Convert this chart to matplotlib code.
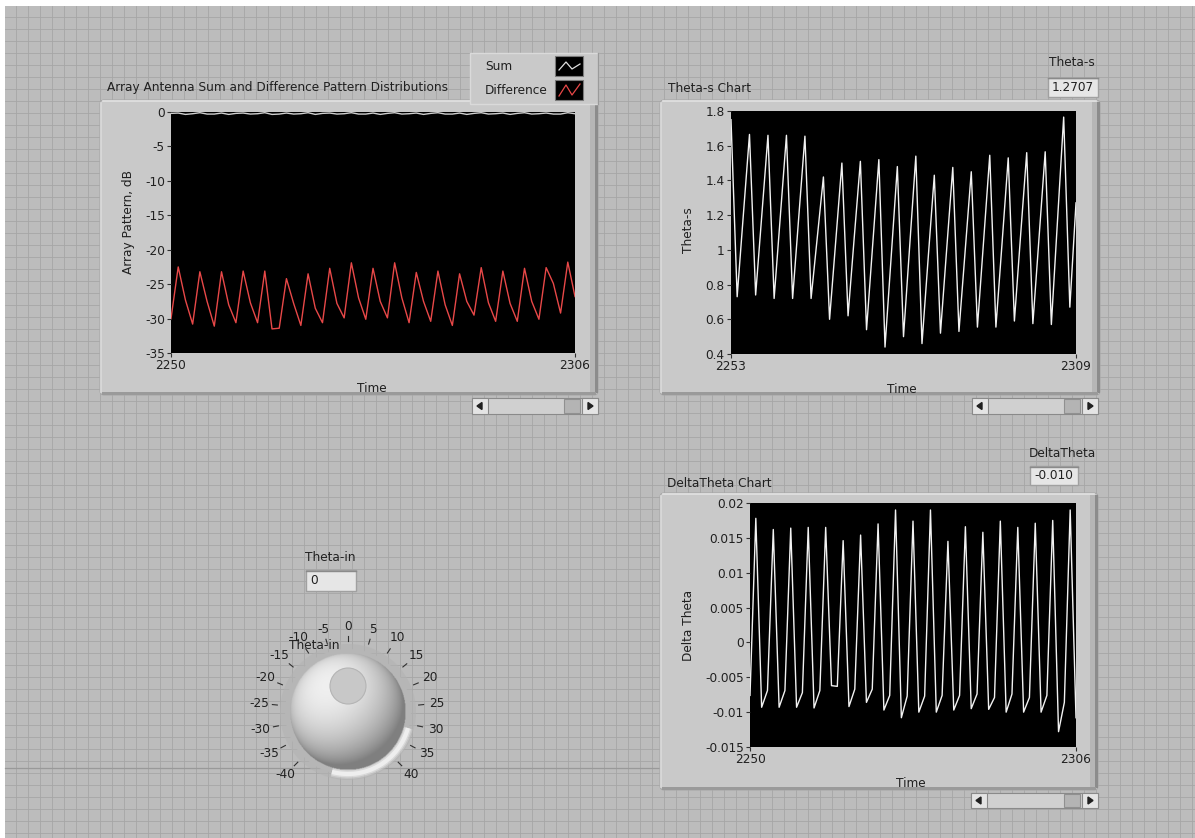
import numpy as np
import matplotlib
matplotlib.use('Agg')
import matplotlib.pyplot as plt
from matplotlib.patches import Rectangle, FancyBboxPatch, Circle, Polygon, Arc

# ---- data ----
time_a = np.arange(2250, 2307)          # sum/difference chart + delta chart
time_s = np.arange(2253, 2310)          # theta-s chart

sum_db = [-0.2, -0.15, -0.35, -0.25, -0.1, -0.3, -0.3, -0.15, -0.35, -0.2,
          -0.15, -0.3, -0.25, -0.1, -0.35, -0.3, -0.15, -0.3, -0.25, -0.1,
          -0.35, -0.2, -0.15, -0.3, -0.25, -0.1, -0.3, -0.3, -0.15, -0.35,
          -0.2, -0.1, -0.3, -0.25, -0.15, -0.35, -0.2, -0.1, -0.3, -0.3,
          -0.15, -0.35, -0.2, -0.1, -0.3, -0.25, -0.15, -0.35, -0.2, -0.1,
          -0.3, -0.25, -0.15, -0.3, -0.3, -0.1, -0.25]

diff_db = [-30.0, -22.5, -27.3, -30.8, -23.2, -27.5, -31.1, -23.2, -28.0, -30.6,
           -23.1, -27.7, -30.6, -23.1, -31.5, -31.4, -24.2, -27.8, -31.0, -23.5,
           -28.5, -30.6, -22.7, -27.8, -29.9, -21.9, -27.0, -30.1, -22.7, -27.5,
           -29.9, -21.9, -27.0, -30.6, -23.3, -27.5, -30.4, -23.1, -28.0, -31.0,
           -23.5, -27.5, -29.5, -22.6, -27.7, -30.4, -23.1, -27.8, -30.4, -22.7,
           -27.5, -30.1, -22.6, -24.9, -29.2, -21.8, -26.8]

theta_s = [1.75, 0.73, 1.20, 1.665, 0.74, 1.20, 1.66, 0.72, 1.19, 1.66,
           0.72, 1.19, 1.655, 0.72, 1.07, 1.42, 0.60, 1.05, 1.50, 0.62,
           1.07, 1.51, 0.54, 1.03, 1.52, 0.44, 0.96, 1.48, 0.50, 1.02,
           1.54, 0.46, 0.95, 1.43, 0.52, 1.00, 1.475, 0.53, 0.99, 1.45,
           0.555, 1.05, 1.545, 0.555, 1.04, 1.53, 0.59, 1.08, 1.56, 0.575,
           1.07, 1.565, 0.57, 1.17, 1.765, 0.67, 1.2707]

delta_theta = [-0.0076, 0.0178, -0.0093, -0.0069, 0.0162, -0.0093, -0.0069, 0.0164, -0.0093, -0.0072,
               0.0165, -0.0094, -0.0069, 0.0165, -0.0062, -0.0063, 0.0146, -0.0092, -0.0067, 0.0154,
               -0.0086, -0.0067, 0.0170, -0.0097, -0.0076, 0.0190, -0.0108, -0.0077, 0.0174, -0.0100,
               -0.0077, 0.0190, -0.0100, -0.0076, 0.0145, -0.0097, -0.0076, 0.0166, -0.0095, -0.0074,
               0.0158, -0.0096, -0.0079, 0.0174, -0.0100, -0.0074, 0.0165, -0.0100, -0.0079, 0.0171,
               -0.0100, -0.0076, 0.0175, -0.0128, -0.0086, 0.0190, -0.0108]

dial_values = [-40, -35, -30, -25, -20, -15, -10, -5, 0, 5, 10, 15, 20, 25, 30, 35, 40]

W, H = 1195, 838
FS = 8.7
TXT = '#202020'
plt.rcParams['font.family'] = 'DejaVu Sans'

fig = plt.figure(figsize=(W / 100, H / 100), dpi=100)

# background axes in pixel units (y down)
bg = fig.add_axes([0, 0, 1, 1])
bg.set_xlim(0, W)
bg.set_ylim(H, 0)
bg.axis('off')
bg.add_patch(Rectangle((0, 0), W, H, facecolor='white', zorder=0))
bg.add_patch(Rectangle((5, 6), W, H, facecolor='#bcbcbc', zorder=0))
for gx in range(16, W, 12):
    bg.plot([gx, gx], [6, H], color='#a6a6a6', lw=0.6, zorder=0.5)
for gy in range(17, H, 12):
    bg.plot([5, W], [gy, gy], color='#a6a6a6', lw=0.6, zorder=0.5)
bg.plot([5, 680], [768, 768], color='#999999', lw=0.9, zorder=0.5)


def panel(x0, y0, x1, y1):
    bg.add_patch(FancyBboxPatch((x0, y0), x1 - x0, y1 - y0,
                                boxstyle='round,pad=0,rounding_size=4',
                                facecolor='#c9c9c9', edgecolor='#a8a8a8', lw=0.8, zorder=1))
    bg.add_patch(Rectangle((x1 - 8, y0 + 2), 5, y1 - y0 - 4, facecolor='#b6b6b6', lw=0, zorder=1.1))
    bg.add_patch(Rectangle((x1 - 3, y0 + 2), 3, y1 - y0 - 4, facecolor='#8c8c8c', lw=0, zorder=1.1))
    bg.add_patch(Rectangle((x0 + 2, y1 - 3), x1 - x0 - 4, 3, facecolor='#9a9a9a', lw=0, zorder=1.1))
    bg.plot([x0 + 3, x1 - 4], [y0 + 1, y0 + 1], color='#e2e2e2', lw=1.2, zorder=1.2)
    bg.plot([x0 + 1, x0 + 1], [y0 + 3, y1 - 3], color='#dadada', lw=1.2, zorder=1.2)


def scrollbar(x0, y0, x1, y1):
    h = y1 - y0
    bg.add_patch(Rectangle((x0, y0), x1 - x0, h, facecolor='#d0d0d0', edgecolor='#8a8a8a', lw=0.8, zorder=1))
    bg.add_patch(Rectangle((x0, y0), 16, h, facecolor='#e4e4e4', edgecolor='#8a8a8a', lw=0.8, zorder=1.1))
    bg.add_patch(Rectangle((x1 - 16, y0), 16, h, facecolor='#e4e4e4', edgecolor='#8a8a8a', lw=0.8, zorder=1.1))
    bg.add_patch(Rectangle((x1 - 34, y0 + 1), 16, h - 2, facecolor='#b4b4b4', edgecolor='#909090', lw=0.8, zorder=1.1))
    cy = y0 + h / 2
    bg.add_patch(Polygon([(x0 + 5, cy), (x0 + 10, cy - 3.5), (x0 + 10, cy + 3.5)], color='#202020', zorder=1.2))
    bg.add_patch(Polygon([(x1 - 5, cy), (x1 - 10, cy - 3.5), (x1 - 10, cy + 3.5)], color='#202020', zorder=1.2))


def indicator(label, value, x0, y0, x1, y1, lx, ly):
    bg.text(lx, ly, label, ha='center', va='center', fontsize=FS, color=TXT, zorder=3)
    bg.add_patch(Rectangle((x0, y0), x1 - x0, y1 - y0, facecolor='#e6e6e6', edgecolor='#a0a0a0', lw=1.0, zorder=2))
    bg.plot([x0, x1], [y0 + 0.5, y0 + 0.5], color='#8a8a8a', lw=1.0, zorder=2.1)
    bg.text(x0 + 4, (y0 + y1) / 2, value, ha='left', va='center', fontsize=FS, color=TXT, zorder=3)


def frac(x0, y0, x1, y1):
    return [x0 / W, 1 - y1 / H, (x1 - x0) / W, (y1 - y0) / H]


def make_chart(box, x, series, colors, xlim, ylim, yticks, ylabels):
    ax = fig.add_axes(frac(*box))
    ax.set_facecolor('black')
    for ys, c in zip(series, colors):
        ax.plot(x, ys, color=c, lw=1.0)
    ax.set_xlim(xlim)
    ax.set_ylim(ylim)
    ax.set_yticks(yticks)
    ax.set_yticklabels(ylabels)
    ax.set_xticks(list(xlim))
    ax.tick_params(direction='out', length=3, width=0.8, color='#303030',
                   labelsize=FS, labelcolor=TXT, pad=1.5)
    for s in ax.spines.values():
        s.set_visible(False)
    return ax


# ---- chart 1: sum / difference ----
panel(100, 100, 598, 395)
bg.text(107, 88, 'Array Antenna Sum and Difference Pattern Distributions',
        ha='left', va='center', fontsize=FS, color=TXT, zorder=3)
bg.text(129, 222, 'Array Pattern, dB', rotation=90, ha='center', va='center', fontsize=FS, color=TXT, zorder=3)
bg.text(372, 388, 'Time', ha='center', va='center', fontsize=FS, color=TXT, zorder=3)
scrollbar(472, 398, 598, 414)
make_chart((171, 112, 575, 353), time_a, [sum_db, diff_db], ['#d0d0d0', '#e84848'],
           (2250, 2306), (-35, 0), [0, -5, -10, -15, -20, -25, -30, -35],
           ['0', '-5', '-10', '-15', '-20', '-25', '-30', '-35'])

# legend
bg.add_patch(Rectangle((470, 53), 128, 51, facecolor='#c9c9c9', edgecolor='#dadada', lw=1.0, zorder=2))
bg.plot([598, 598], [53, 104], color='#9a9a9a', lw=1.0, zorder=2.1)
for i, (name, col) in enumerate([('Sum', '#e0e0e0'), ('Difference', '#e84848')]):
    yy = 66 + 24 * i
    bg.text(485, yy, name, ha='left', va='center', fontsize=FS, color=TXT, zorder=3)
    bg.add_patch(Rectangle((555, yy - 10), 28, 20, facecolor='black', edgecolor='#7a7a7a', lw=0.8, zorder=2.5))
    bg.plot([559, 566, 572, 580], [yy + 6, yy - 5, yy + 5, yy - 6] if i else [yy + 4, yy - 4, yy + 3, yy - 2],
            color=col, lw=0.9, zorder=3)

# ---- chart 2: theta-s ----
panel(660, 100, 1100, 395)
bg.text(668, 89, 'Theta-s Chart', ha='left', va='center', fontsize=FS, color=TXT, zorder=3)
bg.text(689, 230, 'Theta-s', rotation=90, ha='center', va='center', fontsize=FS, color=TXT, zorder=3)
bg.text(902, 389, 'Time', ha='center', va='center', fontsize=FS, color=TXT, zorder=3)
scrollbar(972, 398, 1098, 414)
indicator('Theta-s', '1.2707', 1048, 78, 1098, 97, 1072, 63)
make_chart((731, 111, 1076, 354), time_s, [theta_s], ['#f2f2f2'],
           (2253, 2309), (0.4, 1.8), [0.4, 0.6, 0.8, 1.0, 1.2, 1.4, 1.6, 1.8],
           ['0.4', '0.6', '0.8', '1', '1.2', '1.4', '1.6', '1.8'])

# ---- chart 3: delta theta ----
panel(660, 493, 1098, 790)
bg.text(667, 483, 'DeltaTheta Chart', ha='left', va='center', fontsize=FS, color=TXT, zorder=3)
bg.text(689, 625, 'Delta Theta', rotation=90, ha='center', va='center', fontsize=FS, color=TXT, zorder=3)
bg.text(911, 783, 'Time', ha='center', va='center', fontsize=FS, color=TXT, zorder=3)
scrollbar(971, 793, 1098, 808)
indicator('DeltaTheta', '-0.010', 1030, 466, 1078, 485, 1062, 453)
make_chart((750, 503, 1076, 747), time_a, [delta_theta], ['#f2f2f2'],
           (2250, 2306), (-0.015, 0.02),
           [-0.015, -0.01, -0.005, 0, 0.005, 0.01, 0.015, 0.02],
           ['-0.015', '-0.01', '-0.005', '0', '0.005', '0.01', '0.015', '0.02'])

# ---- knob ----
indicator('Theta-in', '0', 306, 570, 356, 591, 330, 557)
cx, cy, r = 348, 712, 58
bg.add_patch(Circle((cx, cy), 68, facecolor='#b2b2b2', lw=0, alpha=0.6, zorder=1.5))
bg.add_patch(Circle((cx, cy), 63, facecolor='#b6b6b6', lw=0, zorder=1.6))
# soft white glow at lower right (y axis points down)
for lw, a in [(7, 0.25), (5, 0.45), (3, 0.8)]:
    bg.add_patch(Arc((cx, cy), 124, 124, theta1=15, theta2=105, color='#f4f4f4',
                     lw=lw, alpha=a, zorder=1.7))

n = 200
yy, xx = np.mgrid[-1:1:n * 1j, -1:1:n * 1j]
rr = xx ** 2 + yy ** 2
nz = np.sqrt(np.clip(1 - rr, 0, 1))
light = np.array([-0.35, -0.45, 0.82])
light = light / np.linalg.norm(light)
shade = xx * light[0] + yy * light[1] + nz * light[2]
val = np.clip(0.52 + 0.42 * shade, 0.5, 0.95)
img = np.zeros((n, n, 4))
img[..., 0] = val
img[..., 1] = val
img[..., 2] = val
img[..., 3] = (rr <= 1).astype(float)
bg.imshow(img, extent=[cx - r, cx + r, cy + r, cy - r], zorder=2, interpolation='bilinear')
bg.set_xlim(0, W)
bg.set_ylim(H, 0)
bg.set_aspect('auto')
bg.add_patch(Circle((cx, 686), 18, facecolor='#c8c8c8', edgecolor='#b4b4b4', lw=0.8, zorder=2.2))

for v in dial_values:
    ang = np.deg2rad(v * 135 / 40)
    dx, dy = np.sin(ang), -np.cos(ang)
    bg.plot([cx + 71 * dx, cx + 76 * dx], [cy + 71 * dy, cy + 76 * dy], color='#303030', lw=0.8, zorder=3)
    rl = 86 if abs(v) < 10 else 89
    bg.text(cx + rl * dx, cy + rl * dy, str(v), ha='center', va='center', fontsize=FS, color=TXT, zorder=3)
# the dial's own caption sits on top of the scale in the original panel
bg.text(314, 645, 'Theta-in', ha='center', va='center', fontsize=FS, color=TXT, zorder=3)

fig.savefig('out.png', dpi=100)
